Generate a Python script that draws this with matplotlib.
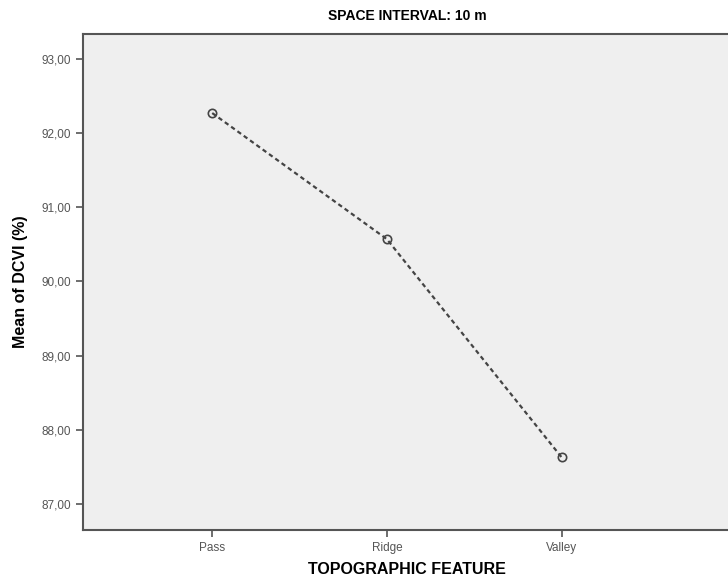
import matplotlib.pyplot as plt

features = ["Pass", "Ridge", "Valley"]
mean_dcvi = [92.27, 90.57, 87.63]
y_ticks = [87, 88, 89, 90, 91, 92, 93]

plt.rcParams["font.family"] = ["Liberation Sans", "DejaVu Sans"]

fig = plt.figure(figsize=(7.28, 5.81), dpi=100)
ax = fig.add_axes([0.114, 0.088, 0.89, 0.854])
ax.set_facecolor("#efefef")

x = list(range(len(features)))
ax.plot(x, mean_dcvi, linestyle=(0, (2, 1.5)), color="#444444", linewidth=1.6,
        marker="o", markersize=6, markerfacecolor="none", markeredgecolor="#444444",
        markeredgewidth=1.2)

ax.set_xlim(-0.74, 2.97)
ax.set_ylim(86.65, 93.34)
ax.set_xticks(x)
ax.set_xticklabels(features)
ax.set_yticks(y_ticks)
ax.set_yticklabels([f"{v:.2f}".replace(".", ",") for v in y_ticks])
ax.tick_params(colors="#555555", labelsize=8.5, length=5, width=1.2)

for side in ["left", "bottom", "top"]:
    ax.spines[side].set_color("#555555")
    ax.spines[side].set_linewidth(1.5)
ax.spines["right"].set_visible(False)

ax.set_title("SPACE INTERVAL: 10 m", fontsize=10, fontweight="bold", pad=10)
ax.set_xlabel("TOPOGRAPHIC FEATURE", fontsize=11.5, fontweight="bold", labelpad=6)
ax.set_ylabel("Mean of DCVI (%)", fontsize=11.5, fontweight="bold", labelpad=10)

fig.savefig("out.png", dpi=100)
